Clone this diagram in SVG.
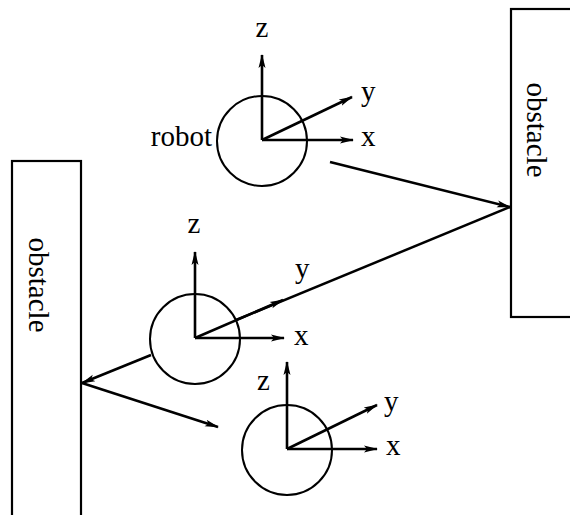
<svg xmlns="http://www.w3.org/2000/svg" width="570" height="515" viewBox="0 0 570 515">
<defs>
<marker id="ah" viewBox="0 0 14 10" refX="13" refY="5" markerWidth="14" markerHeight="10" markerUnits="userSpaceOnUse" orient="auto">
<path d="M0,1.5 L14,5 L0,8.5 L3,5 Z" fill="#000"/>
</marker>
<style>
.ln{stroke:#000;stroke-width:2.5;fill:none}
.ax{stroke:#000;stroke-width:2.6;fill:none;marker-end:url(#ah)}
.c{stroke:#000;stroke-width:2;fill:none}
.box{stroke:#000;stroke-width:2.2;fill:#fff}
text{font-family:"Liberation Serif","Times New Roman",serif;font-size:29px;fill:#000}
</style>
</defs>
<rect width="570" height="515" fill="#fff"/>
<g id="obstacle-right">
<rect class="box" x="511" y="9" width="70" height="308"/>
<text transform="translate(527,130) rotate(90)" text-anchor="middle">obstacle</text>
</g>
<g id="obstacle-left">
<rect class="box" x="12" y="161" width="69" height="370"/>
<text transform="translate(29,285) rotate(90)" text-anchor="middle">obstacle</text>
</g>
<g id="robot1">
<circle class="c" cx="262" cy="141" r="45"/>
<line class="ax" x1="262" y1="140" x2="262" y2="55"/>
<line class="ax" x1="262" y1="140" x2="353" y2="140"/>
<line class="ax" x1="262" y1="140" x2="352" y2="97"/>
<text x="262" y="37" text-anchor="middle">z</text>
<text x="361" y="101">y</text>
<text x="361" y="146">x</text>
<text x="212" y="146" text-anchor="end">robot</text>
</g>
<g id="robot2">
<circle class="c" cx="195" cy="339" r="45"/>
<line class="ax" x1="195" y1="338" x2="195" y2="252"/>
<line class="ax" x1="195" y1="338" x2="284" y2="338"/>
<line class="ax" x1="195" y1="338" x2="283" y2="300"/>
<text x="194" y="233" text-anchor="middle">z</text>
<text x="295" y="278">y</text>
<text x="294" y="345">x</text>
</g>
<g id="robot3">
<circle class="c" cx="287" cy="450" r="45"/>
<line class="ax" x1="287" y1="449" x2="287" y2="362"/>
<line class="ax" x1="287" y1="449" x2="377" y2="449"/>
<line class="ax" x1="287" y1="449" x2="377" y2="405"/>
<text x="257" y="390">z</text>
<text x="384" y="411">y</text>
<text x="386" y="455">x</text>
</g>
<g id="connectors">
<line class="ax" x1="330" y1="162" x2="510" y2="207"/>
<line class="ln" x1="510" y1="207" x2="236" y2="320"/>
<line class="ax" x1="151" y1="355" x2="82" y2="383"/>
<line class="ax" x1="82" y1="383" x2="218" y2="427"/>
</g>
</svg>
